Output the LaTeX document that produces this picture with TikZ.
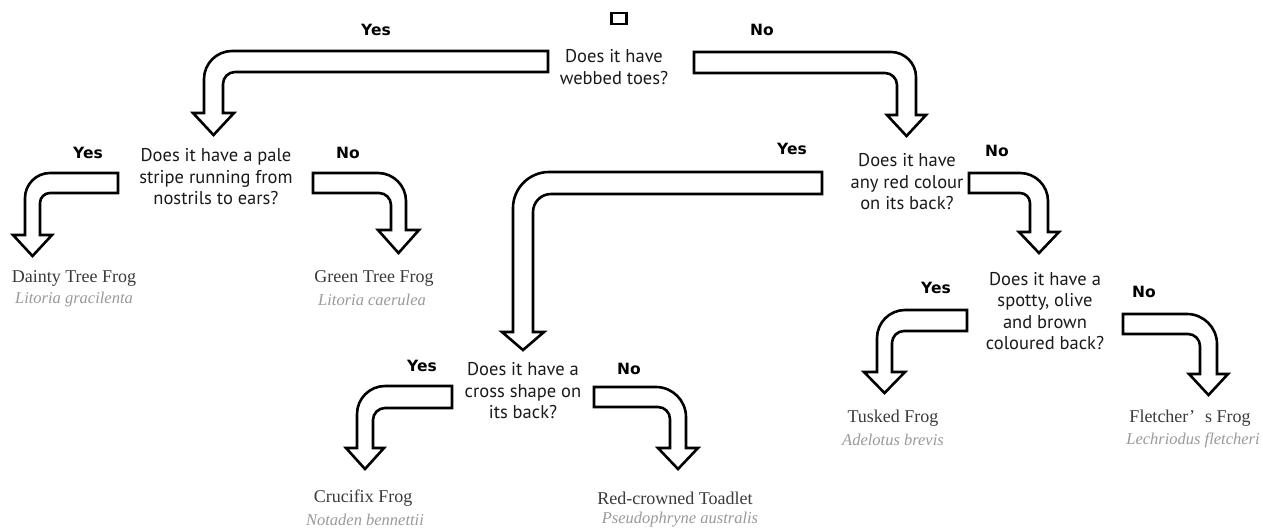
\documentclass[tikz,border=0pt]{standalone}
\usepackage{fontspec}
\setmainfont{Liberation Serif}
\newfontfamily\qfont{PT Sans}
\newfontfamily\lblfont{DejaVu Sans}
\definecolor{qtext}{HTML}{1A1A1A}
\definecolor{nametext}{HTML}{3A3A3A}
\definecolor{lattext}{HTML}{9A9A9A}
\newcommand\arrhx{12}
% left-turning bent block arrow
% #1 flat end x, #2 band top y, #3 band bottom y, #4 shaft outer x, #5 shaft inner x,
% #6 outer radius, #7 inner radius, #8 head base y, #9 tip y
\newcommand{\arrL}[9]{%
  \draw[bentarrow] (#1,#2) -- ({#4+#6},#2)
    .. controls ({#4+0.45*#6},#2) and (#4,{#2+0.45*#6}) .. (#4,{#2+#6})
    -- (#4,#8) -- ({#4-\arrhx},#8) -- ({(#4+#5)/2},#9) -- ({#5+\arrhx},#8) -- (#5,#8)
    -- (#5,{#3+#7})
    .. controls (#5,{#3+0.45*#7}) and ({#5+0.45*#7},#3) .. ({#5+#7},#3)
    -- (#1,#3) -- cycle;}
% right-turning bent block arrow
\newcommand{\arrR}[9]{%
  \draw[bentarrow] (#1,#2) -- ({#4-#6},#2)
    .. controls ({#4-0.45*#6},#2) and (#4,{#2+0.45*#6}) .. (#4,{#2+#6})
    -- (#4,#8) -- ({#4+\arrhx},#8) -- ({(#4+#5)/2},#9) -- ({#5-\arrhx},#8) -- (#5,#8)
    -- (#5,{#3+#7})
    .. controls (#5,{#3+0.45*#7}) and ({#5-0.45*#7},#3) .. ({#5-#7},#3)
    -- (#1,#3) -- cycle;}
\tikzset{
  bentarrow/.style={draw=black, fill=white, line width=2.6pt, line join=miter, miter limit=4},
  qn/.style={font=\qfont\fontsize{18.5}{21.5}\selectfont, text=qtext, align=center, inner sep=0pt},
  yn/.style={font=\lblfont\bfseries\fontsize{15.5}{17}\selectfont, text=black, inner sep=0pt},
  spname/.style={font=\fontsize{18}{20}\selectfont, text=nametext, inner sep=0pt},
  splat/.style={font=\itshape\fontsize{16.5}{18}\selectfont, text=lattext, inner sep=0pt},
  startbox/.style={draw=black, line width=2.4pt, minimum width=15pt, minimum height=10.5pt, inner sep=0pt}
}
\begin{document}
\begin{tikzpicture}[x=1pt,y=-1pt]
\useasboundingbox (0,0) rectangle (1263,531);
\fill[white] (0,0) rectangle (1263,531);

% start box and first question
\node[startbox] (start) at (619,18.5) {};
\node[qn] (q1) at (614,67) {Does it have\\webbed toes?};
\node[yn] (y1) at (376,30) {Yes};
\node[yn] (n1) at (762,30) {No};
\renewcommand\arrhx{11}
\arrL{548}{51}{72}{204}{223}{28}{12}{113}{135}
\renewcommand\arrhx{10}
\arrR{694}{52}{73}{916}{897}{25}{12}{115}{136}

% pale stripe question
\node[qn] (q2) at (216,177) {Does it have a pale\\stripe running from\\nostrils to ears?};
\node[yn] (y2) at (88,153) {Yes};
\node[yn] (n2) at (348,153) {No};
\renewcommand\arrhx{12}
\arrL{118}{173}{193}{25}{40}{25}{10}{235}{256}
\renewcommand\arrhx{13}
\arrR{313}{173}{193}{406}{391}{28}{12}{230}{253}
\node[spname] (dainty) at (74,278) {Dainty Tree Frog};
\node[splat] (daintyL) at (74,300) {Litoria gracilenta};
\node[spname] (green) at (374,278) {Green Tree Frog};
\node[splat] (greenL) at (372,300) {Litoria caerulea};

% red colour question
\node[qn] (q3) at (907,182) {Does it have\\any red colour\\on its back?};
\node[yn] (y3) at (792,149) {Yes};
\node[yn] (n3) at (997,151) {No};
\renewcommand\arrhx{11}
\arrL{822}{172}{194}{513}{533}{36}{18}{332}{350}
\renewcommand\arrhx{11}
\arrR{969}{173}{193}{1048}{1030}{28}{10}{232}{253}

% spotty question
\node[qn] (q4) at (1045,311) {Does it have a\\spotty, olive\\and brown\\coloured back?};
\node[yn] (y4) at (936,288) {Yes};
\node[yn] (n4) at (1144,292) {No};
\renewcommand\arrhx{13}
\arrL{967}{310}{331}{877}{892}{28}{12}{372}{393}
\renewcommand\arrhx{11}
\arrR{1123}{314}{334}{1217}{1200}{30}{12}{374}{395}
\node[spname] (tusked) at (893,418) {Tusked Frog};
\node[splat] (tuskedL) at (893,440) {Adelotus brevis};
\node[spname] (fletcher) at (1190,418) {Fletcher’\hspace{0.55em}s Frog};
\node[splat] (fletcherL) at (1193,440) {Lechriodus fletcheri};

% cross question
\node[qn] (q5) at (523,391) {Does it have a\\cross shape on\\its back?};
\node[yn] (y5) at (422,366) {Yes};
\node[yn] (n5) at (629,369) {No};
\renewcommand\arrhx{11}
\arrL{452}{386}{408}{357}{373}{28}{12}{448}{469}
\renewcommand\arrhx{12}
\arrR{594}{387}{407}{686}{670}{30}{12}{448}{469}
\node[spname] (crucifix) at (363,498) {Crucifix Frog};
\node[splat] (crucifixL) at (365,520) {Notaden bennettii};
\node[spname] (toadlet) at (675,498) {Red-crowned Toadlet};
\node[splat] (toadletL) at (680,520) {Pseudophryne australis};
\end{tikzpicture}
\end{document}
